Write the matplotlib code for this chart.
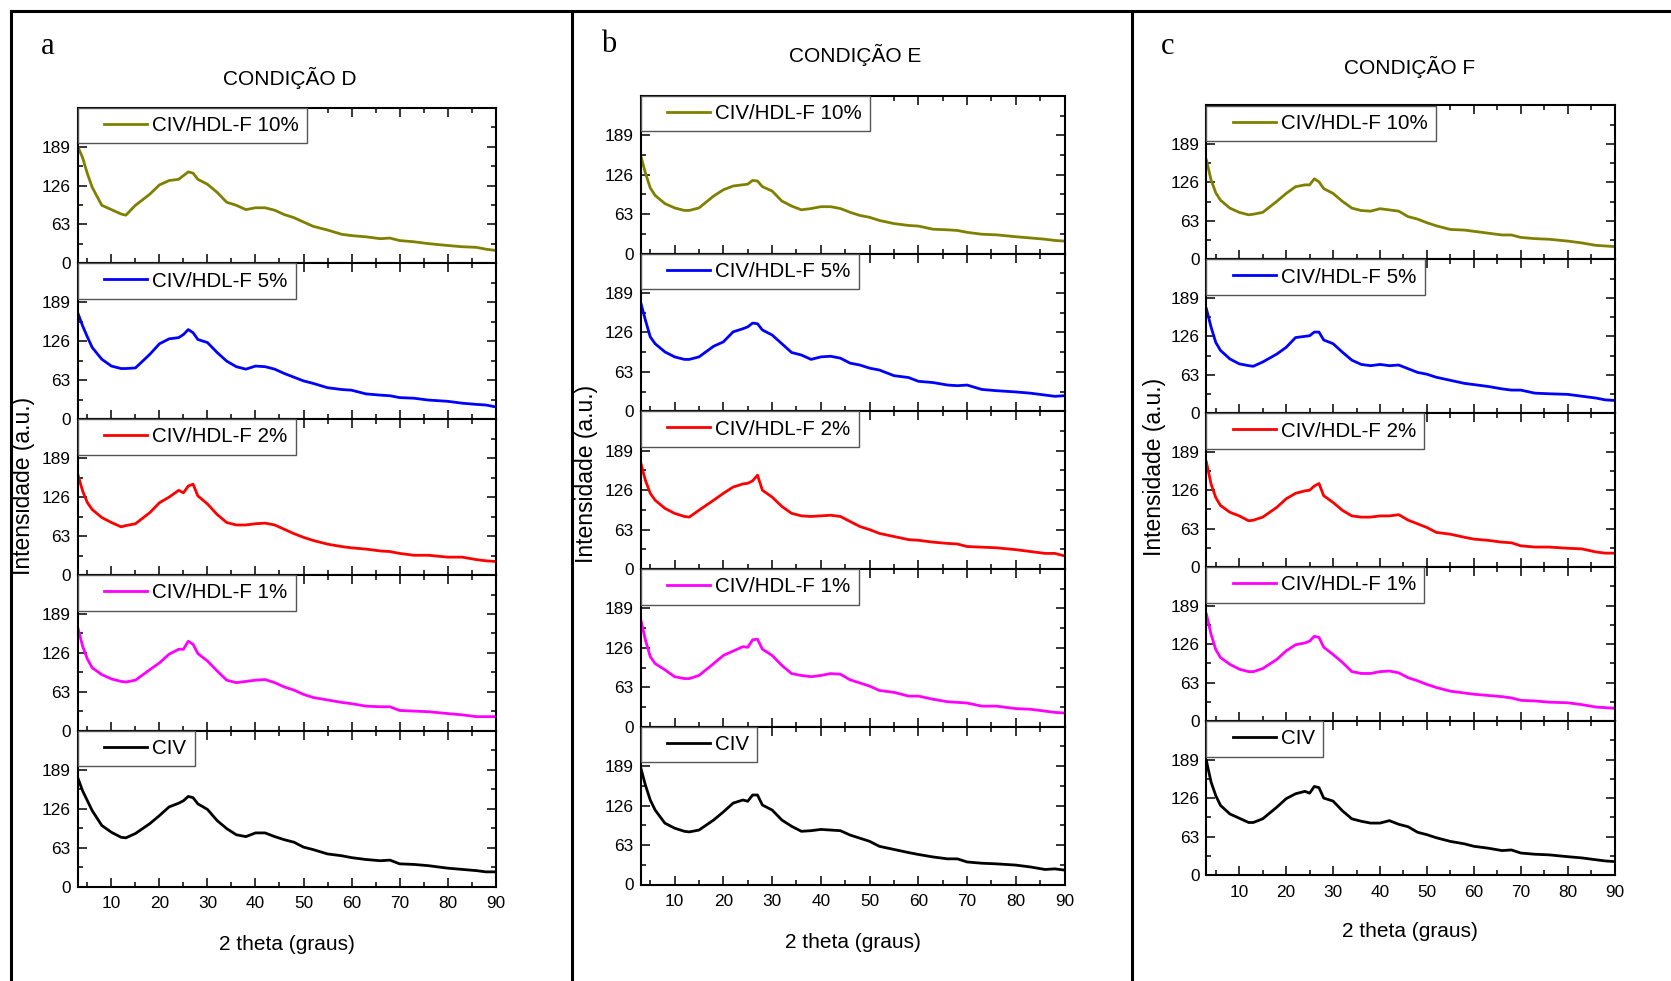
import matplotlib as mpl
import matplotlib.pyplot as plt
from matplotlib.lines import Line2D
from matplotlib.legend_handler import HandlerBase
from matplotlib.ticker import MultipleLocator

mpl.use('Agg')
plt.rcParams['font.family'] = ['Liberation Sans', 'DejaVu Sans']

# 2 theta (graus)
theta = [3, 4, 5, 6, 8, 10, 12, 13, 15, 18, 20, 22, 24, 25, 26, 27, 28, 30, 32, 34, 36, 38,
         40, 42, 44, 46, 48, 50, 52, 55, 58, 60, 63, 66, 68, 70, 73, 76, 80, 83, 86, 88, 90]

# condicao D
d_10 = [189, 171, 145, 123, 94, 87, 80, 78, 94, 112, 127, 134, 136, 142, 148, 146, 136, 128, 115, 99, 94, 87,
        90, 90, 86, 79, 74, 67, 60, 54, 47, 45, 43, 40, 41, 37, 35, 32, 29, 27, 26, 23, 21]
d_5 = [172, 151, 133, 116, 97, 86, 82, 82, 83, 105, 122, 130, 132, 137, 145, 140, 129, 124, 108, 94, 85, 81,
       86, 85, 81, 74, 68, 62, 58, 51, 48, 47, 41, 39, 38, 35, 34, 31, 29, 26, 24, 23, 20]
d_2 = [163, 136, 117, 106, 93, 85, 78, 80, 83, 101, 117, 126, 137, 133, 144, 147, 128, 115, 98, 85, 81, 81,
       83, 84, 81, 74, 67, 61, 56, 50, 46, 44, 42, 39, 38, 35, 32, 32, 29, 29, 25, 23, 22]
d_1 = [167, 137, 116, 102, 91, 84, 80, 79, 82, 99, 110, 124, 132, 132, 145, 140, 125, 113, 97, 82, 78, 80,
       82, 83, 78, 71, 66, 59, 54, 50, 46, 44, 40, 39, 39, 33, 32, 31, 28, 26, 23, 23, 23]
d_civ = [176, 155, 139, 123, 99, 88, 80, 79, 86, 102, 115, 129, 135, 139, 146, 144, 134, 125, 107, 94, 84, 81,
         87, 87, 81, 76, 72, 64, 60, 53, 50, 47, 44, 42, 43, 37, 36, 34, 30, 28, 26, 24, 24]

# condicao E
e_10 = [158, 129, 105, 93, 80, 73, 69, 69, 73, 92, 102, 108, 110, 111, 117, 116, 107, 100, 84, 76, 70, 72,
        75, 75, 72, 66, 61, 58, 53, 48, 45, 44, 39, 38, 37, 34, 31, 30, 27, 25, 23, 21, 20]
e_5 = [175, 146, 119, 108, 95, 87, 83, 83, 87, 104, 111, 127, 132, 135, 141, 140, 130, 122, 108, 94, 90, 83,
       87, 88, 85, 77, 74, 69, 66, 57, 54, 48, 46, 42, 41, 42, 35, 33, 31, 29, 26, 24, 25]
e_2 = [171, 142, 121, 110, 97, 89, 84, 83, 94, 110, 121, 131, 136, 137, 141, 150, 126, 115, 100, 89, 85, 84,
       85, 86, 84, 76, 68, 63, 57, 52, 47, 46, 43, 41, 40, 36, 35, 34, 31, 28, 25, 25, 21]
e_1 = [173, 139, 112, 101, 91, 80, 77, 77, 82, 101, 114, 121, 128, 127, 139, 140, 124, 114, 98, 85, 82, 80,
       82, 85, 84, 75, 70, 65, 58, 55, 49, 49, 44, 40, 39, 38, 33, 33, 29, 28, 25, 23, 22]
e_civ = [188, 159, 135, 119, 98, 90, 85, 84, 87, 103, 116, 130, 135, 133, 143, 143, 127, 119, 103, 93, 85, 86,
         88, 87, 86, 79, 74, 69, 61, 56, 51, 48, 44, 41, 41, 36, 34, 33, 31, 28, 24, 25, 23]

# condicao F
f_10 = [163, 130, 109, 97, 84, 77, 73, 74, 77, 95, 108, 119, 122, 122, 132, 127, 116, 108, 95, 84, 80, 79,
        83, 81, 79, 70, 66, 60, 55, 49, 48, 46, 43, 40, 40, 36, 34, 33, 30, 27, 23, 22, 21]
f_5 = [171, 141, 116, 103, 89, 81, 78, 77, 84, 97, 108, 124, 126, 127, 133, 133, 120, 114, 100, 87, 80, 78,
       80, 78, 79, 73, 67, 64, 59, 54, 49, 47, 44, 40, 38, 38, 33, 32, 31, 28, 25, 22, 21]
f_2 = [172, 136, 114, 101, 90, 84, 76, 77, 82, 98, 112, 121, 125, 126, 133, 137, 117, 106, 93, 84, 82, 82,
       84, 84, 86, 77, 71, 65, 57, 54, 49, 46, 44, 41, 40, 35, 33, 33, 31, 30, 25, 23, 23]
f_1 = [175, 142, 117, 104, 93, 85, 81, 81, 86, 101, 115, 125, 128, 131, 139, 137, 121, 109, 96, 81, 78, 78,
       81, 82, 79, 71, 66, 60, 55, 49, 46, 44, 42, 40, 38, 34, 33, 31, 30, 27, 23, 22, 21]
f_civ = [187, 152, 130, 114, 100, 93, 86, 86, 92, 111, 125, 133, 137, 134, 145, 143, 126, 121, 105, 92, 88, 85,
         85, 89, 83, 79, 70, 66, 61, 55, 51, 47, 44, 40, 41, 36, 34, 33, 30, 28, 25, 23, 22]

nomes = ["CIV/HDL-F 10%", "CIV/HDL-F 5%", "CIV/HDL-F 2%", "CIV/HDL-F 1%", "CIV"]
cores = ["#808000", "#0000ff", "#ff0000", "#ff00ff", "#000000"]
yticks = [0, 63, 126, 189]

W, H = 1671, 981


class LinhaLegenda(HandlerBase):
    # linha curta encostada no texto, com espaco livre a esquerda
    def create_artists(self, legend, orig_handle, xdescent, ydescent, width, height, fontsize, trans):
        y = height / 2 - ydescent
        ln = Line2D([-xdescent + 0.30 * width, -xdescent + width], [y, y],
                    color=orig_handle.get_color(), lw=orig_handle.get_linewidth(), transform=trans)
        return [ln]


def painel(fig, caixa, series, letra, titulo, pos_titulo, pos_letra, pos_xl, pos_yl):
    x0, y0, x1, y1 = caixa  # pixels: esquerda, topo, direita, base
    h = (y1 - y0) / 5
    for i, (ys, nome, cor) in enumerate(zip(series, nomes, cores)):
        top = y0 + i * h
        ax = fig.add_axes([x0 / W, 1 - (top + h) / H, (x1 - x0) / W, h / H])
        ax.plot(theta, ys, color=cor, lw=2.0, label=nome)
        ax.set_xlim(3, 90)
        ax.set_ylim(0, 252)
        ax.set_yticks(yticks)
        ax.xaxis.set_major_locator(MultipleLocator(10))
        ax.xaxis.set_minor_locator(MultipleLocator(5))
        ax.yaxis.set_minor_locator(MultipleLocator(31.5))
        ax.tick_params(which='both', direction='in', top=True, right=True, width=1.1, labelsize=12.4)
        ax.tick_params(which='major', length=6.5)
        ax.tick_params(which='minor', length=3.5)
        ax.tick_params(axis='y', pad=5)
        ax.tick_params(axis='x', pad=7, labelbottom=(i == 4))
        for s in ax.spines.values():
            s.set_linewidth(1.5)
        leg = ax.legend(loc='upper left', bbox_to_anchor=(0, 1), borderaxespad=0, fontsize=14.8,
                        handlelength=2.97, handletextpad=0.26, borderpad=0.4, fancybox=False,
                        framealpha=1, edgecolor='#555555',
                        handler_map={Line2D: LinhaLegenda()})
        leg.get_frame().set_linewidth(1.0)
    fig.text(pos_titulo[0] / W, 1 - pos_titulo[1] / H, titulo, fontsize=15, ha='center', va='center')
    fig.text(pos_letra[0] / W, 1 - pos_letra[1] / H, letra, fontsize=22, ha='center', va='center',
             family='Liberation Serif')
    fig.text(pos_xl[0] / W, 1 - pos_xl[1] / H, "2 theta (graus)", fontsize=15, ha='center', va='center')
    fig.text(pos_yl[0] / W, 1 - pos_yl[1] / H, "Intensidade (a.u.)", fontsize=16.5, ha='center',
             va='center', rotation=90)


fig = plt.figure(figsize=(W / 100, H / 100), dpi=100)

painel(fig, (77.8, 107.6, 495.6, 886.7), [d_10, d_5, d_2, d_1, d_civ], "a", "CONDIÇÃO D",
       (290, 77.8), (48, 46), (286.7, 944), (23.4, 486))
painel(fig, (640.5, 95.9, 1064.6, 884.5), [e_10, e_5, e_2, e_1, e_civ], "b", "CONDIÇÃO E",
       (854.7, 55.4), (608.5, 44), (852.6, 943), (586, 474))
painel(fig, (1206.4, 105.5, 1614.6, 875), [f_10, f_5, f_2, f_1, f_civ], "c", "CONDIÇÃO F",
       (1410, 67.1), (1168, 46), (1410, 931.4), (1154, 467))

# moldura
for xs, ys in [((0.0064, 1.0), (1 - 10.7 / H, 1 - 10.7 / H)),
               ((10.7 / W, 10.7 / W), (0, 1 - 10.7 / H)),
               ((572.3 / W, 572.3 / W), (0, 1 - 10.7 / H)),
               ((1131.8 / W, 1131.8 / W), (0, 1 - 10.7 / H))]:
    fig.add_artist(Line2D(xs, ys, color='black', lw=2.2, transform=fig.transFigure))

fig.savefig("out.png", dpi=100)
